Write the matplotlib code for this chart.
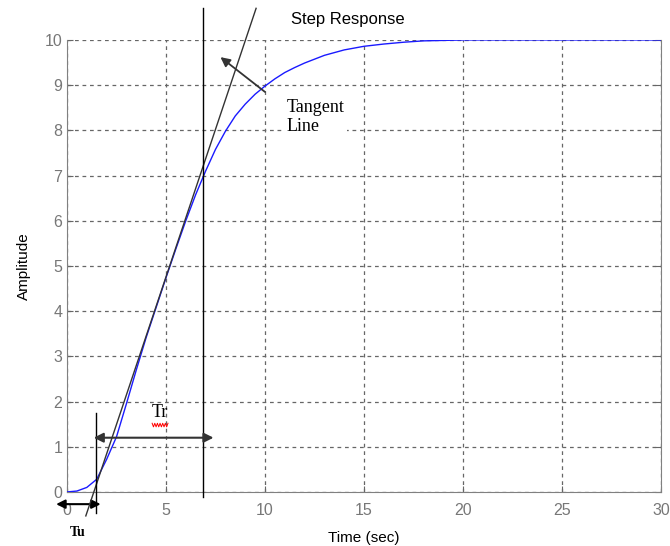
import matplotlib
matplotlib.use("Agg")
import matplotlib.pyplot as plt
import numpy as np

# step response
t = [0, 0.5, 1.0, 1.5, 2.0, 2.5, 3.0, 3.5, 4.0, 4.5, 5.0, 5.5, 6.0, 6.5, 7.0,
     7.5, 8.0, 8.5, 9.0, 9.5, 10.0, 10.5, 11.0, 11.5, 12.0, 13.0, 14.0, 15.0,
     16.0, 17.0, 18.0, 19.0, 20.0, 30.0]
amp = [0, 0.02, 0.1, 0.28, 0.72, 1.22, 1.95, 2.7, 3.42, 4.08, 4.74, 5.38,
       6.0, 6.58, 7.1, 7.58, 7.98, 8.32, 8.58, 8.8, 8.98, 9.14, 9.28, 9.39,
       9.49, 9.66, 9.78, 9.86, 9.91, 9.95, 9.98, 9.99, 10.0, 10.0]

# construction lines
tu = 1.45          # dead time marker
tr_end = 6.89      # tangent meets the curve
tan_x = [0.95, 9.55]
tan_y = [-0.53, 10.7]

xticks = [0, 5, 10, 15, 20, 25, 30]
yticks = list(range(0, 11))

plt.rcParams['font.family'] = ['Liberation Sans', 'DejaVu Sans']

fig = plt.figure(figsize=(6.7, 5.46), dpi=100)
ax = fig.add_axes([0.1, 0.099, 0.8866, 0.8278])

ax.plot(t, amp, color='#1a1aff', lw=1.0, zorder=3)
ax.plot(tan_x, tan_y, color='#333333', lw=1.0, clip_on=False, zorder=4)
ax.plot([tr_end, tr_end], [-0.11, 10.7], color='black', lw=1.0, clip_on=False, zorder=4)
ax.plot([tu, tu], [-0.46, 1.75], color='black', lw=1.0, clip_on=False, zorder=4)

ax.set_xlim(0, 30)
ax.set_ylim(0, 10)
ax.set_xticks(xticks)
ax.set_yticks(yticks)
ax.grid(True, linestyle=(0, (3, 3)), color='#666666', lw=0.9)
ax.tick_params(direction='in', colors='#666666', labelcolor='#777777',
               labelsize=11.5, right=True, length=4)
ax.tick_params(axis='x', pad=8)
for s in ['left', 'bottom', 'right']:
    ax.spines[s].set_color('#808080')
ax.spines['top'].set_visible(False)

ax.set_xlabel('Time (sec)', fontsize=11, labelpad=9)
ax.set_ylabel('Amplitude', fontsize=11, labelpad=10)
ax.text(14.2, 10.45, 'Step Response', fontsize=12, ha='center', va='center')

# Tr arrow
ax.annotate('', xy=(7.4, 1.2), xytext=(1.35, 1.2), annotation_clip=False,
            arrowprops=dict(arrowstyle='<|-|>', color='#333333', lw=1.5,
                            mutation_scale=14, shrinkA=0, shrinkB=0), zorder=5)
ax.text(4.7, 1.75, 'Tr', family='Liberation Serif', fontsize=13,
        ha='center', va='center', zorder=6)
sq_x = np.linspace(4.3, 5.1, 13)
sq_y = 1.48 + 0.04 * np.array([(-1) ** i for i in range(13)])
ax.plot(sq_x, sq_y, color='red', lw=0.7, zorder=6)

# Tu arrow
ax.annotate('', xy=(1.7, -0.27), xytext=(-0.55, -0.27), annotation_clip=False,
            arrowprops=dict(arrowstyle='<|-|>', color='black', lw=1.5,
                            mutation_scale=13, shrinkA=0, shrinkB=0))
ax.text(0.55, -0.9, 'Tu', family='Liberation Serif', fontweight='bold',
        fontsize=10, ha='center', va='center', clip_on=False)

# Tangent line label
ax.annotate('', xy=(7.75, 9.62), xytext=(10.0, 8.85),
            arrowprops=dict(arrowstyle='-|>', color='#333333', lw=1.3,
                            mutation_scale=14, shrinkA=0, shrinkB=0), zorder=5)
ax.text(11.1, 8.3, 'Tangent\nLine', family='Liberation Serif', fontsize=13,
        ha='left', va='center', linespacing=1.2,
        bbox=dict(facecolor='white', edgecolor='none', pad=2), zorder=6)

fig.savefig('out.png', dpi=100)
